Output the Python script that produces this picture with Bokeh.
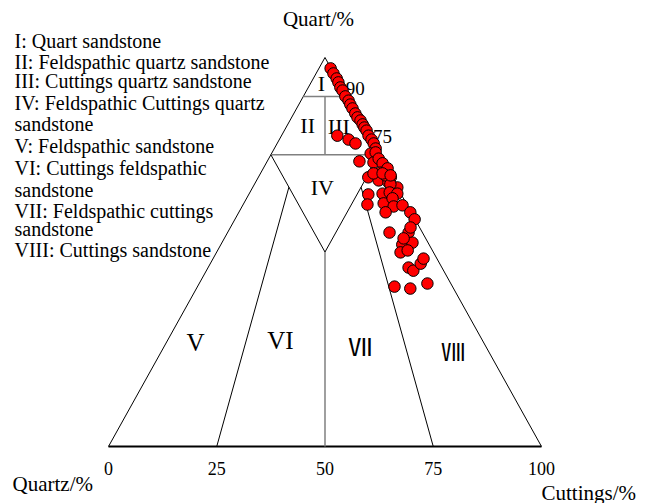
from bokeh.plotting import figure
from bokeh.models import Range1d, Label
from bokeh.core.properties import value
from bokeh.embed import file_html
from bokeh.resources import INLINE

# Sample compositions (percent of quartz and of rock cuttings; feldspar is the rest)
quartz = [97.2, 95.9, 94.6, 93.6, 92.3, 91.5, 90.0, 88.9, 87.9, 86.9,
          85.6, 84.6, 83.8, 82.8, 82.0, 81.2, 79.9, 78.9, 77.9, 76.6,
          79.9, 78.9, 77.9,
          73.3, 75.3, 75.6, 73.0, 74.0, 72.8, 69.2, 70.4, 71.5, 68.4,
          67.9, 69.2, 66.6, 69.7, 70.2, 67.4, 64.8, 65.0, 65.3, 65.0,
          62.2, 62.5, 63.8, 61.7, 60.2, 62.0, 60.2, 58.4, 55.0, 55.0,
          56.3, 51.9, 52.4, 49.9, 50.4, 46.0, 45.2, 47.0, 48.3, 41.1,
          40.6, 41.9, 70.2, 69.7, 53.5]
cuttings = [2.7, 4.0, 5.4, 6.3, 7.4, 8.3, 9.7, 11.0, 11.9, 12.9,
            14.2, 15.2, 16.3, 17.3, 18.1, 19.0, 20.1, 21.3, 22.3, 23.4,
            12.9, 16.0, 18.1,
            21.3, 22.9, 23.9, 24.7, 25.4, 26.9, 25.4, 27.6, 28.7, 28.2,
            30.7, 30.6, 33.4, 29.1, 26.1, 31.4, 27.6, 30.8, 32.3, 34.2,
            28.7, 32.3, 33.7, 35.0, 33.9, 36.9, 39.6, 41.5, 37.4, 41.8,
            41.6, 41.9, 44.0, 42.5, 43.9, 46.3, 47.8, 48.6, 48.6, 45.5,
            49.4, 52.7, 28.2, 30.3, 41.4]

# Classification boundaries as (quartz, cuttings) end points
outline = [(100, 0), (0, 0), (0, 100), (100, 0)]
grey_bounds = [[(90, 0), (90, 10)], [(75, 0), (75, 25)], [(90, 5), (75, 12.5)], [(50, 25), (0, 50)]]
black_bounds = [[(75, 0), (50, 25), (75, 25)],
                [(66.67, 8.33), (0, 25)],
                [(66.67, 25), (0, 75)]]

base_ticks = [0, 25, 50, 75, 100]
edge_ticks = [90, 75]

legend_lines = ["I: Quart sandstone",
                "II: Feldspathic quartz sandstone",
                "III: Cuttings quartz sandstone",
                "IV: Feldspathic Cuttings quartz",
                "sandstone",
                "V: Feldspathic sandstone",
                "VI: Cuttings feldspathic",
                "sandstone",
                "VII: Feldspathic cuttings",
                "sandstone",
                "VIII: Cuttings sandstone"]

# region numerals: upper fields, lower fields, and the compact glyphs
upper_regions = ["I", "II", "III", "IV"]
upper_x = [49.2, 46.0, 53.2, 49.4]
upper_y = [93.3, 82.5, 82.2, 66.6]
lower_regions = ["V", "VI"]
lower_x = [20.1, 39.7]
lower_y = [26.7, 27.2]
wide_regions = ["Ⅶ", "Ⅷ"]
wide_x = [58.2, 79.7]
wide_y = [26.0, 24.7]


def tern(q, r):
    """Ternary (quartz, cuttings) -> plot coordinates."""
    return r + q / 2.0, q


SERIF = value("Liberation Serif")

p = figure(width=648, height=503, output_backend="svg", toolbar_location=None,
           x_range=Range1d(-24.94, 124.71), y_range=Range1d(-14.65, 114.65),
           x_axis_location=None, y_axis_location=None, min_border=0,
           background_fill_color="white", border_fill_color="white")
p.grid.visible = False
p.outline_line_color = None

# triangle edges
ox, oy = zip(*[tern(q, r) for q, r in outline])
p.line(ox[1:3], oy[1:3], line_color="black", line_width=2)
p.line([ox[0], ox[1]], [oy[0], oy[1]], line_color="black", line_width=1)
p.line([ox[2], ox[3]], [oy[2], oy[3]], line_color="black", line_width=1)

for seg in grey_bounds:
    xs, ys = zip(*[tern(q, r) for q, r in seg])
    p.line(xs, ys, line_color="#808080", line_width=1.5)
for seg in black_bounds:
    xs, ys = zip(*[tern(q, r) for q, r in seg])
    p.line(xs, ys, line_color="black", line_width=1)

# tick labels along base and right edge
bx = [tern(0, t)[0] for t in base_ticks]
p.text(bx, [-5.6] * len(bx), text=[str(t) for t in base_ticks], text_font=SERIF,
       text_font_size="18px", text_align="center", text_baseline="middle", text_color="black")
ex = [tern(t, 100 - t)[0] for t in edge_ticks]
ey = [float(t) for t in edge_ticks]
p.text(ex, ey, text=[str(t) for t in edge_ticks], text_font=SERIF,
       text_font_size="19px", text_align="left", text_baseline="middle",
       x_offset=[-1, -6], y_offset=[-8, -18], text_color="black")

# region numerals
p.text(upper_x, upper_y, text=upper_regions, text_font=SERIF, text_font_size="22px",
       text_align="center", text_baseline="middle", text_color="black")
p.text(lower_x, lower_y, text=lower_regions, text_font=SERIF, text_font_size="25px",
       text_align="center", text_baseline="middle", text_color="black")
p.text(wide_x, wide_y, text=wide_regions, text_font=value("Noto Sans CJK SC"),
       text_font_size="24px", text_align="center", text_baseline="middle", text_color="black")

# samples
sx, sy = zip(*[tern(q, r) for q, r in zip(quartz, cuttings)])
p.scatter(sx, sy, size=11.5, fill_color="#ff0000", line_color="black", line_width=1)

# axis titles
for txt, x, y, align in [("Quart/%", 318, 503 - 18, "center"),
                         ("Quartz/%", 12, 503 - 483, "left"),
                         ("Cuttings/%", 541, 503 - 492, "left")]:
    p.add_layout(Label(x=x, y=y, x_units="screen", y_units="screen", text=txt,
                       text_font="Liberation Serif", text_font_size="21px",
                       text_align=align, text_baseline="middle", text_color="black"))

# classification key
key_y = [40, 61, 80, 102, 123, 145, 167, 189, 210, 228, 249]
for txt, yy in zip(legend_lines, key_y):
    p.add_layout(Label(x=14, y=503 - yy, x_units="screen", y_units="screen", text=txt,
                       text_font="Liberation Serif", text_font_size="20px",
                       text_align="left", text_baseline="middle", text_color="black"))

open("out.html", "w").write(file_html(p, INLINE))
